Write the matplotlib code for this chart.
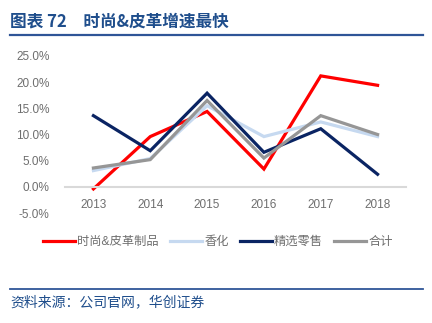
import matplotlib
matplotlib.use('Agg')
import matplotlib.pyplot as plt
from matplotlib.lines import Line2D
from matplotlib.ticker import FuncFormatter

plt.rcParams['font.family'] = ['Liberation Sans', 'Noto Sans CJK SC', 'DejaVu Sans']

# ------------------------------------------------------------------ #
# data (growth rate, %)
years = ['2013', '2014', '2015', '2016', '2017', '2018']
fashion = [-0.4, 9.6, 14.4, 3.4, 21.2, 19.4]      # 时尚&皮革制品
cosmetics = [3.1, 5.4, 15.5, 9.6, 12.4, 9.6]      # 香化
retail = [13.6, 6.9, 17.9, 6.6, 11.1, 2.4]        # 精选零售
total = [3.6, 5.2, 16.5, 5.5, 13.6, 10.0]         # 合计
labels = ['时尚&皮革制品', '香化', '精选零售', '合计']
colors = ['#FF0000', '#C6D9F0', '#0A2463', '#969696']

title = '图表 72\u3000时尚&皮革增速最快'
source = '资料来源：公司官网，华创证券'
# ------------------------------------------------------------------ #

W, H = 432, 323
fig = plt.figure(figsize=(W / 100, H / 100), dpi=100)
ax = fig.add_axes([65 / W, 1 - 213 / H, (406 - 65) / W, (213 - 56) / H])

x = list(range(len(years)))
for series, lab, col in zip([fashion, cosmetics, retail, total], labels, colors):
    ax.plot(x, series, color=col, linewidth=2.3, label=lab, solid_joinstyle='miter')

ax.set_xlim(-0.5, len(years) - 0.5)
ax.set_ylim(-5, 25)
ax.set_yticks([-5, 0, 5, 10, 15, 20, 25])
ax.yaxis.set_major_formatter(FuncFormatter(lambda v, p: '%.1f%%' % v))
ax.set_xticks(x)
ax.set_xticklabels(years)

for s in ['top', 'right', 'left']:
    ax.spines[s].set_visible(False)
ax.spines['bottom'].set_position(('data', 0))
ax.spines['bottom'].set_color('#D9D9D9')
ax.spines['bottom'].set_linewidth(1.5)
ax.tick_params(axis='both', length=0, labelsize=8.5, colors='#6E6E6E')
ax.tick_params(axis='y', pad=11)
ax.tick_params(axis='x', pad=9)

# legend below plot
fig.legend(loc='center', bbox_to_anchor=(218 / W, 1 - 242 / H), ncol=4, frameon=False,
           fontsize=8.8, handlelength=2.6, handletextpad=0.2, columnspacing=0.9,
           labelcolor='#6E6E6E')

# title + rules
fig.text(10 / W, 1 - 22 / H, title, fontsize=12, fontweight='bold', color='#1F4E8C',
         family=['Noto Sans CJK SC', 'DejaVu Sans'], va='center', ha='left')
fig.add_artist(Line2D([10 / W, 423 / W], [1 - 35 / H, 1 - 35 / H], color='#2F5597', linewidth=1.6))
fig.add_artist(Line2D([10 / W, 423 / W], [1 - 289 / H, 1 - 289 / H], color='#2F5597', linewidth=1.3))
fig.text(10 / W, 1 - 302 / H, source, fontsize=10, color='#1F4E8C', style='italic',
         family=['Noto Sans CJK SC', 'DejaVu Sans'], va='center', ha='left')

fig.savefig('out.png', dpi=100)
